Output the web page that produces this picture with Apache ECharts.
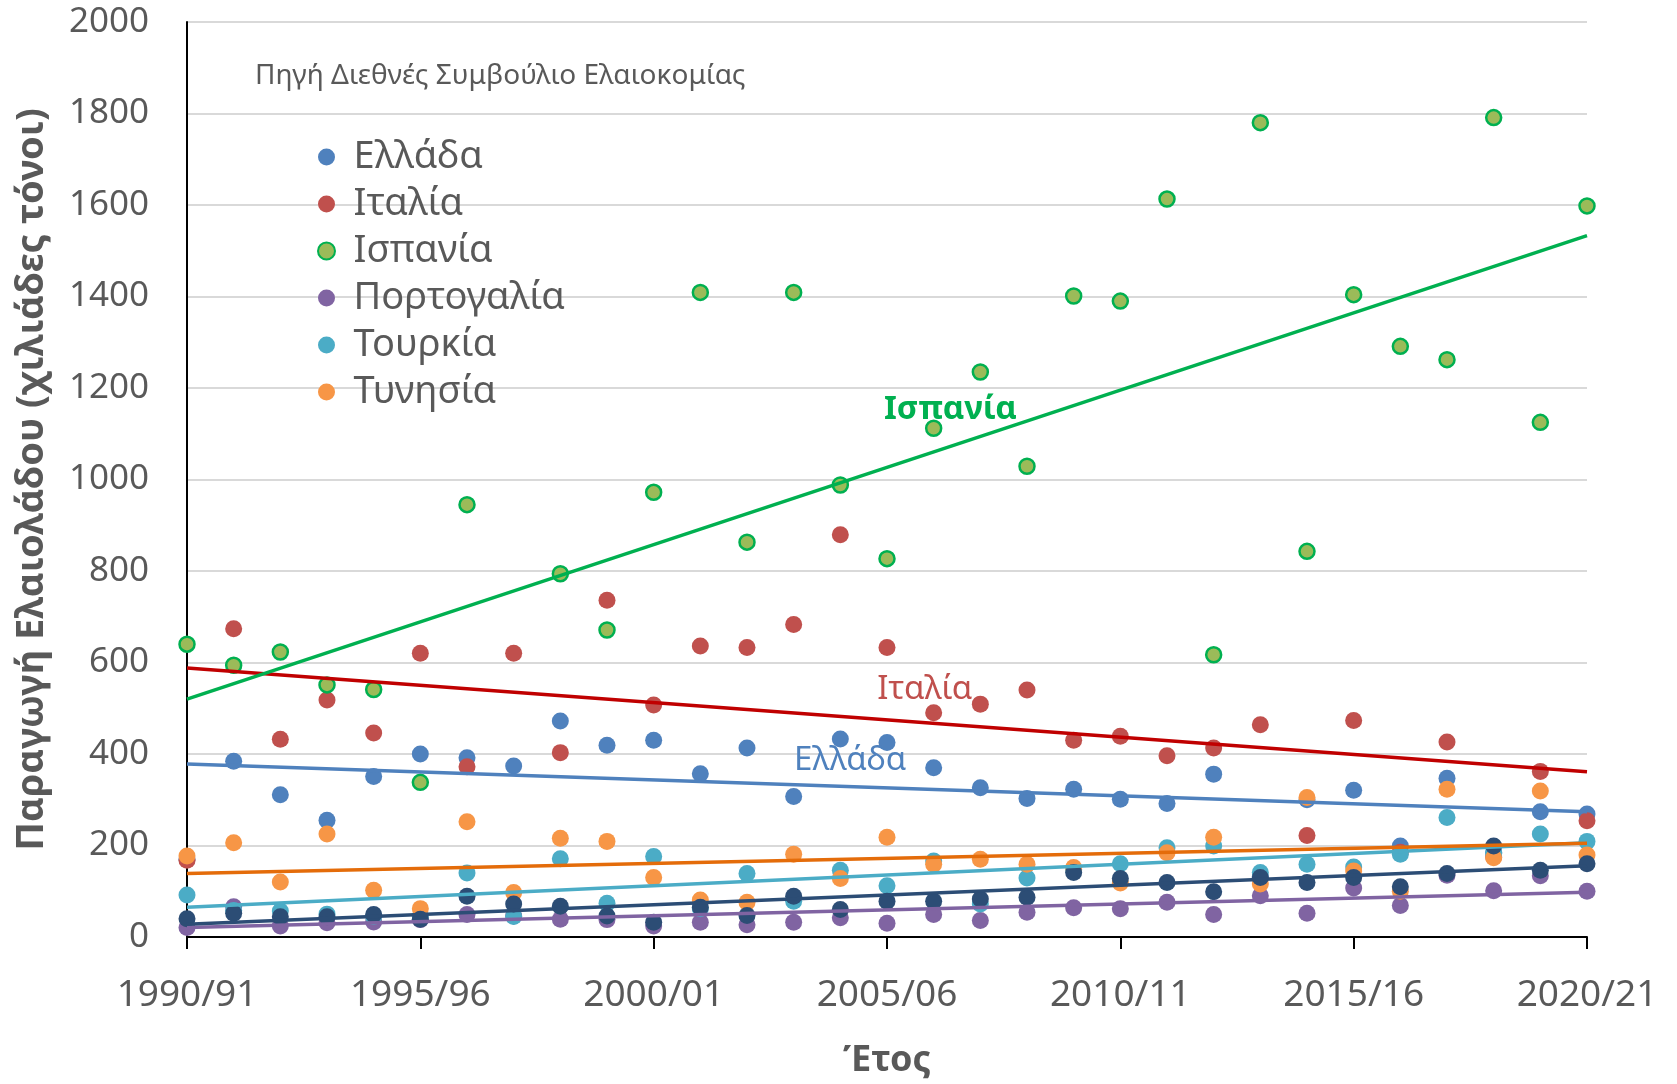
<!DOCTYPE html>
<html>
<head>
<meta charset="utf-8">
<script src="https://cdn.jsdelivr.net/npm/echarts/dist/echarts.min.js"></script>
<style>
html, body { margin: 0; padding: 0; background: #fff; }
#chart { width: 1677px; height: 1084px; }
</style>
</head>
<body>
<div id="chart"></div>
<script>
// ετήσια περίοδος (δείκτης 0..30)
var years = ['1990/91', '1991/92', '1992/93', '1993/94', '1994/95', '1995/96', '1996/97', '1997/98',
    '1998/99', '1999/00', '2000/01', '2001/02', '2002/03', '2003/04', '2004/05', '2005/06', '2006/07',
    '2007/08', '2008/09', '2009/10', '2010/11', '2011/12', '2012/13', '2013/14', '2014/15', '2015/16',
    '2016/17', '2017/18', '2018/19', '2019/20', '2020/21'];

// παραγωγή σε χιλιάδες τόνους
var greece = [170, 384, 311, 255, 351, 400, 392, 374, 472, 419, 430, 357, 413, 307, 433, 425, 370, 326, 303, 323, 301, 292, 356, 132, 300, 321, 199, 347, 185, 274, 269];
var italy = [168, 674, 432, 518, 446, 620, 372, 620, 403, 736, 507, 636, 633, 683, 879, 633, 490, 509, 540, 430, 439, 396, 413, 464, 222, 473, 185, 426, 175, 362, 254];
var spain = [640, 594, 623, 551, 541, 338, 945, null, 794, 671, 972, 1409, 863, 1409, 988, 827, 1112, 1235, 1029, 1401, 1390, 1613, 617, 1780, 843, 1404, 1291, 1262, 1791, 1125, 1598];
var portugal = [21, 66, 24, 31, 33, 38, 49, 46, 39, 38, 24, 32, 27, 32, 42, 30, 49, 36, 54, 64, 62, 76, 49, 90, 52, 107, 69, 135, 101, 134, 100];
var turkey = [92, 58, 57, 50, 45, 45, 140, 45, 171, 74, 176, 62, 139, 78, 146, 112, 166, 72, 129, 147, 160, 195, 199, 141, 159, 153, 181, 261, 183, 225, 209];
var tunisia = [177, 206, 120, 225, 102, 62, 252, 97, 216, 209, 130, 81, 76, 181, 128, 218, 159, 170, 159, 152, 118, 184, 218, 116, 305, 144, 100, 323, 173, 319, 179];
var morocco = [40, 52, 44, 44, 49, 39, 89, 72, 67, 46, 32, 65, 47, 89, 60, 78, 78, 83, 87, 141, 128, 119, 99, 130, 119, 130, 110, 139, 199, 146, 160];

// γραμμές τάσης: τιμή στην αρχή (1990/91) και στο τέλος (2020/21)
var trendGreece = [378, 274];
var trendItaly = [588, 361];
var trendSpain = [520, 1533];
var trendPortugal = [21, 98];
var trendTurkey = [65, 206];
var trendTunisia = [139, 205];
var trendMorocco = [28, 156];

var legendNames = ['Ελλάδα', 'Ιταλία', 'Ισπανία', 'Πορτογαλία', 'Τουρκία', 'Τυνησία'];

var FONT = '"Noto Sans", "DejaVu Sans", sans-serif';

function pts(arr) {
    return arr.map(function (v, i) { return [i, v]; });
}

function scatter(name, arr, style, size) {
    style.opacity = 1;
    return {
        name: name,
        type: 'scatter',
        data: pts(arr),
        symbol: 'circle',
        symbolSize: size || 17,
        itemStyle: style
    };
}

function trend(name, ends, color, label) {
    var s = {
        name: name + ' τάση',
        type: 'line',
        data: [[0, ends[0]], [30, ends[1]]],
        symbol: 'none',
        lineStyle: { color: color, width: 3.5 },
        z: 3
    };
    if (label) {
        s.markPoint = {
            symbol: 'circle',
            symbolSize: 1,
            itemStyle: { color: 'rgba(0,0,0,0)' },
            label: {
                show: true,
                position: 'inside',
                formatter: label.text,
                color: label.color,
                fontSize: 33,
                fontWeight: label.bold ? 'bold' : 'normal',
                fontFamily: FONT
            },
            data: [{ coord: label.coord }]
        };
    }
    return s;
}

var myChart = echarts.init(document.getElementById('chart'));
var option = {
    animation: false,
    textStyle: { fontFamily: FONT },
    title: {
        text: 'Πηγή Διεθνές Συμβούλιο Ελαιοκομίας',
        left: 250,
        top: 57,
        textStyle: { fontSize: 28, fontWeight: 'normal', color: '#595959', fontFamily: FONT }
    },
    legend: {
        data: legendNames,
        orient: 'vertical',
        left: 312,
        top: 132,
        itemWidth: 44,
        itemHeight: 17,
        itemGap: 7,
        icon: 'circle',
        textStyle: { fontSize: 38, color: '#595959', lineHeight: 40, fontFamily: FONT }
    },
    grid: {
        left: 187,
        right: 90,
        top: 22,
        bottom: 143
    },
    xAxis: {
        type: 'value',
        min: 0,
        max: 30,
        interval: 5,
        name: 'Έτος',
        nameLocation: 'middle',
        nameGap: 106,
        nameTextStyle: { fontSize: 36, fontWeight: 'bold', color: '#595959', fontFamily: FONT },
        axisLine: { show: true, lineStyle: { color: '#000', width: 2 } },
        axisTick: { show: true, length: 12, lineStyle: { color: '#000', width: 2 } },
        splitLine: { show: false },
        axisLabel: {
            fontSize: 37,
            color: '#595959',
            margin: 40,
            fontFamily: FONT,
            formatter: function (v) { return years[v]; }
        }
    },
    yAxis: {
        type: 'value',
        min: 0,
        max: 2000,
        interval: 200,
        name: 'Παραγωγή Ελαιολάδου (χιλιάδες τόνοι)',
        nameLocation: 'middle',
        nameGap: 136,
        nameRotate: 90,
        nameTextStyle: { fontSize: 38, fontWeight: 'bold', color: '#595959', fontFamily: FONT },
        axisLine: { show: true, lineStyle: { color: '#000', width: 2 } },
        axisTick: { show: false },
        splitLine: { lineStyle: { color: '#D9D9D9', width: 2 } },
        axisLabel: {
            fontSize: 35,
            color: '#595959',
            margin: 38,
            fontFamily: FONT,
            formatter: function (v) { return String(v); }
        }
    },
    series: [
        scatter('Ελλάδα', greece, { color: '#4F81BD' }),
        scatter('Ιταλία', italy, { color: '#C0504D' }),
        scatter('Ισπανία', spain, { color: '#9BBB59', borderColor: '#00B050', borderWidth: 2.5 }, 15),
        scatter('Πορτογαλία', portugal, { color: '#8064A2' }),
        scatter('Τουρκία', turkey, { color: '#4BACC6' }),
        scatter('Τυνησία', tunisia, { color: '#F79646' }),
        scatter('Μαρόκο', morocco, { color: '#2C4D75' }),
        trend('Ελλάδα', trendGreece, '#4F81BD', { text: 'Ελλάδα', color: '#4F81BD', coord: [14.21, 386] }),
        trend('Ιταλία', trendItaly, '#C00000', { text: 'Ιταλία', color: '#C0504D', coord: [15.81, 540] }),
        trend('Ισπανία', trendSpain, '#00B050', { text: 'Ισπανία', color: '#00B050', bold: true, coord: [16.36, 1152] }),
        trend('Πορτογαλία', trendPortugal, '#8064A2'),
        trend('Τουρκία', trendTurkey, '#4BACC6'),
        trend('Τυνησία', trendTunisia, '#E46C0A'),
        trend('Μαρόκο', trendMorocco, '#2C4D75')
    ]
};
myChart.setOption(option);
window.onresize = function () {
    myChart.resize();
};
</script>
</body>
</html>
